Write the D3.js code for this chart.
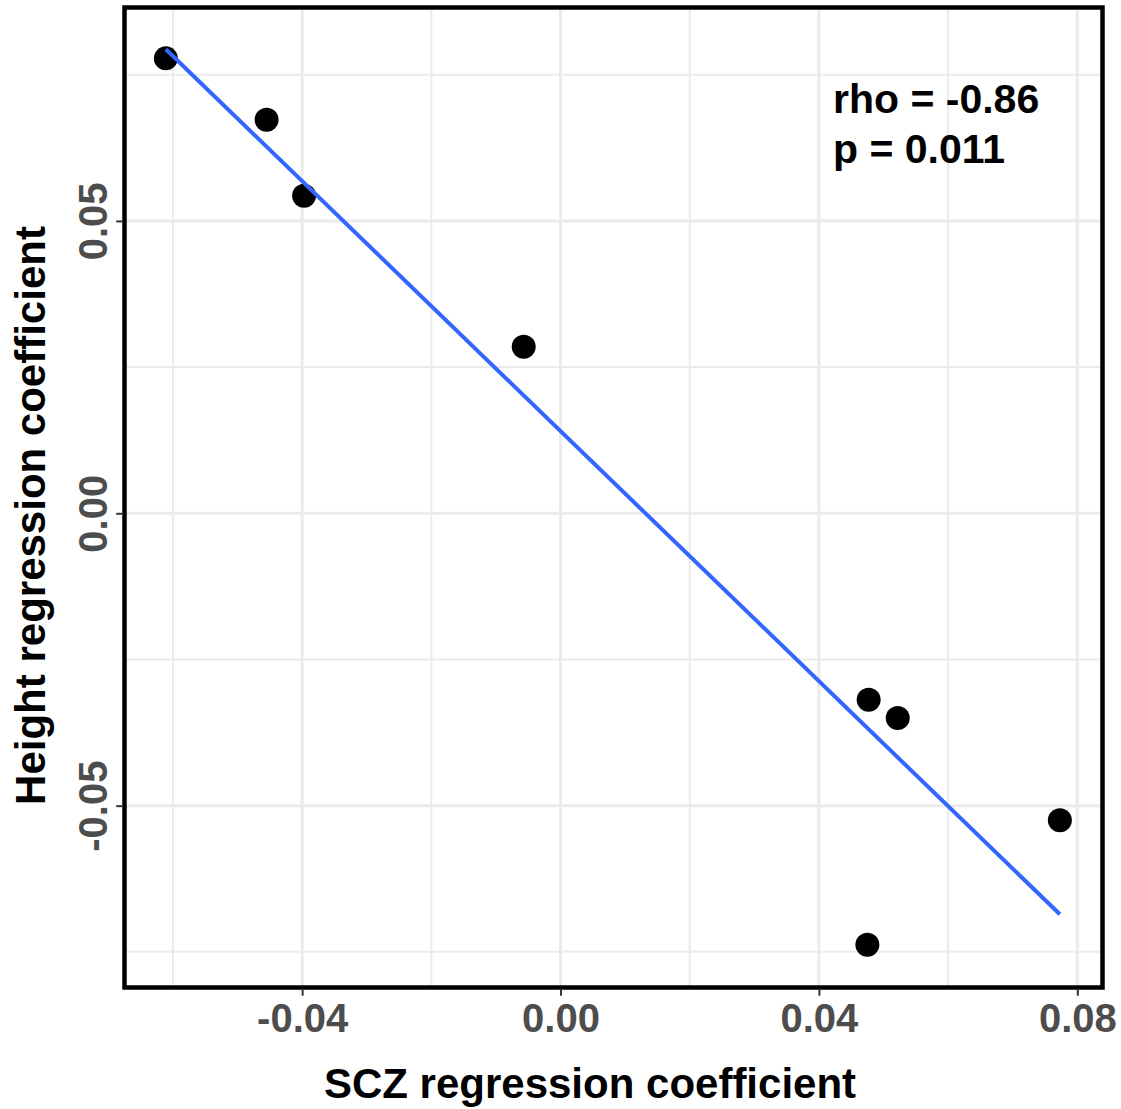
<!DOCTYPE html>
<html>
<head>
<meta charset="utf-8">
<script src="https://cdn.jsdelivr.net/npm/d3@7"></script>
<style>
  html, body { margin: 0; padding: 0; background: #fff; }
  svg text { font-family: "Liberation Sans", Arial, Helvetica, sans-serif; font-weight: bold; }
</style>
</head>
<body>
<svg id="chart" width="1121" height="1109"></svg>
<script>
// ---- data ----
const sczCoef    = [-0.0611, -0.0455, -0.0397, -0.0057, 0.0477, 0.0522, 0.0773, 0.0475];
const heightCoef = [ 0.0778,  0.0673,  0.0543,  0.0285, -0.0319, -0.0350, -0.0525, -0.0738];
const xTicks = [-0.04, 0.00, 0.04, 0.08];
const xTickLabels = ["-0.04", "0.00", "0.04", "0.08"];
const yTicks = [-0.05, 0.00, 0.05];
const yTickLabels = ["-0.05", "0.00", "0.05"];
const xMinor = [-0.06, -0.02, 0.02, 0.06];
const yMinor = [-0.075, -0.025, 0.025, 0.075];
const xDomain = [-0.0675, 0.0839];
const yDomain = [-0.0811, 0.0865];
const statLines = ["rho = -0.86", "p = 0.011"];
const xTitle = "SCZ regression coefficient";
const yTitle = "Height regression coefficient";

// ---- layout ----
const svg = d3.select("#chart");
const L = 124.5, R = 1102.5, T = 7.5, B = 987.5;
const x = d3.scaleLinear().domain(xDomain).range([L, R]);
const y = d3.scaleLinear().domain(yDomain).range([B, T]);

svg.append("rect").attr("width", 1121).attr("height", 1109).attr("fill", "#fff");

// grid
const grid = svg.append("g");
grid.selectAll(".xmin").data(xMinor).join("line")
  .attr("x1", d => x(d)).attr("x2", d => x(d)).attr("y1", T).attr("y2", B)
  .attr("stroke", "#EBEBEB").attr("stroke-width", 2);
grid.selectAll(".ymin").data(yMinor).join("line")
  .attr("y1", d => y(d)).attr("y2", d => y(d)).attr("x1", L).attr("x2", R)
  .attr("stroke", "#EBEBEB").attr("stroke-width", 2);
grid.selectAll(".xmaj").data(xTicks).join("line")
  .attr("x1", d => x(d)).attr("x2", d => x(d)).attr("y1", T).attr("y2", B)
  .attr("stroke", "#EBEBEB").attr("stroke-width", 3);
grid.selectAll(".ymaj").data(yTicks).join("line")
  .attr("y1", d => y(d)).attr("y2", d => y(d)).attr("x1", L).attr("x2", R)
  .attr("stroke", "#EBEBEB").attr("stroke-width", 3);

// regression line (OLS)
const pts = sczCoef.map((v, i) => [v, heightCoef[i]]);
const mx = d3.mean(sczCoef), my = d3.mean(heightCoef);
const sxy = d3.sum(pts, p => (p[0] - mx) * (p[1] - my));
const sxx = d3.sum(pts, p => (p[0] - mx) ** 2);
const slope = sxy / sxx, intercept = my - slope * mx;
const [x0, x1] = d3.extent(sczCoef);

// points
svg.append("g").selectAll("circle").data(pts).join("circle")
  .attr("cx", d => x(d[0])).attr("cy", d => y(d[1])).attr("r", 12)
  .attr("fill", "#000");

svg.append("line")
  .attr("x1", x(x0)).attr("y1", y(slope * x0 + intercept))
  .attr("x2", x(x1)).attr("y2", y(slope * x1 + intercept))
  .attr("stroke", "#3366FF").attr("stroke-width", 4);

// panel border
svg.append("rect").attr("x", L).attr("y", T).attr("width", R - L).attr("height", B - T)
  .attr("fill", "none").attr("stroke", "#000").attr("stroke-width", 4.5);

// axes
const xAxis = svg.append("g").attr("transform", `translate(0,${B + 2.25})`)
  .call(d3.axisBottom(x).tickValues(xTicks).tickFormat((d, i) => xTickLabels[i]).tickSize(6).tickPadding(6));
const yAxis = svg.append("g").attr("transform", `translate(${L - 2.25},0)`)
  .call(d3.axisLeft(y).tickValues(yTicks).tickFormat((d, i) => yTickLabels[i]).tickSize(6).tickPadding(6));
[xAxis, yAxis].forEach(a => {
  a.select(".domain").remove();
  a.selectAll(".tick line").attr("stroke", "#333").attr("stroke-width", 2);
  a.selectAll(".tick text").attr("fill", "#4D4D4D").style("font-size", "40px")
    .style("font-family", "'Liberation Sans', Arial, sans-serif").style("font-weight", "bold");
});
xAxis.selectAll(".tick text").attr("dy", null).attr("y", 42);
yAxis.selectAll(".tick text")
  .attr("x", null).attr("dy", null)
  .attr("text-anchor", "middle")
  .attr("transform", "translate(-15,0) rotate(-90)")
  .attr("y", 0);

// stats text
svg.append("g").selectAll("text").data(statLines).join("text")
  .attr("x", 833).attr("y", (d, i) => 113 + i * 50)
  .attr("fill", "#000").style("font-size", "41px").text(d => d);

// axis titles
svg.append("text").attr("x", 590).attr("y", 1098)
  .attr("text-anchor", "middle").attr("fill", "#000").style("font-size", "42px").text(xTitle);
svg.append("text").attr("transform", `translate(45,${(T + B) / 2 + 18}) rotate(-90)`)
  .attr("text-anchor", "middle").attr("fill", "#000").style("font-size", "42px").text(yTitle);
</script>
</body>
</html>
